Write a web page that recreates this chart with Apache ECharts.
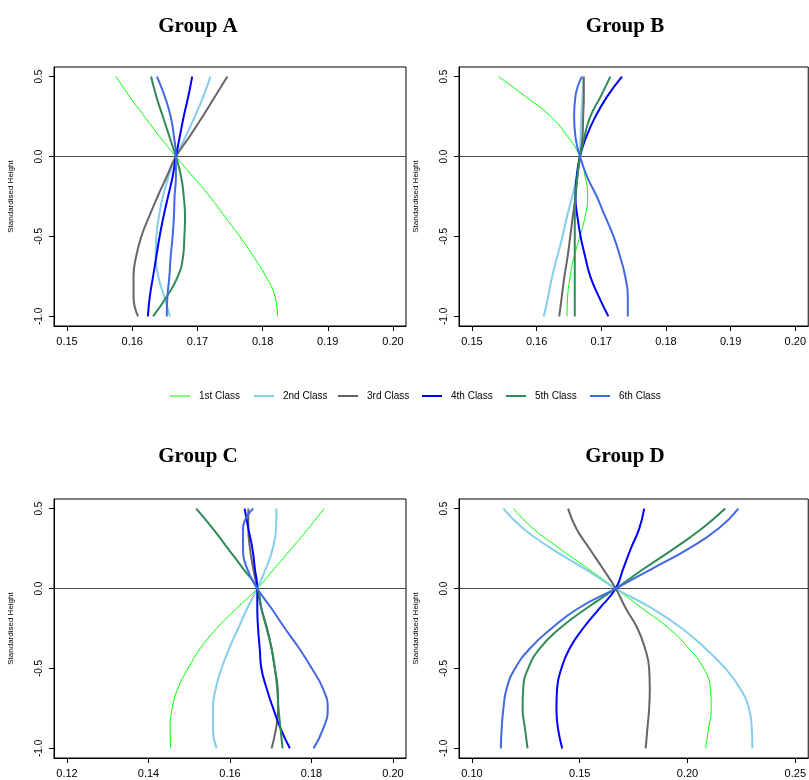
<!DOCTYPE html>
<html>
<head>
<meta charset="utf-8">
<script src="https://cdn.jsdelivr.net/npm/echarts@6/dist/echarts.min.js"></script>
<style>
  html, body { margin: 0; padding: 0; background: #fff; }
  #chart { width: 809px; height: 780px; }
</style>
</head>
<body>
<div id="chart"></div>
<script>
// Standardised height levels at which each profile is sampled
const heights = [0.5, 0.375, 0.25, 0.125, 0, -0.125, -0.25, -0.375, -0.5, -0.625, -0.75, -0.875, -1.0];

const classNames = ['1st Class', '2nd Class', '3rd Class', '4th Class', '5th Class', '6th Class'];
const classColors = ['#00ff00', '#87ceeb', '#666666', '#0000ff', '#2e8b57', '#4169e1'];
const classWidths = [1, 2, 2, 2, 2, 2];

const groupNames = ['Group A', 'Group B', 'Group C', 'Group D'];

// Share of each class at every height level (one row per class)
const groupA = [
  [0.1575, 0.1596, 0.1619, 0.1642, 0.1667, 0.1693, 0.1719, 0.1742, 0.1765, 0.1786, 0.1805, 0.1819, 0.1823],
  [0.1720, 0.1709, 0.1696, 0.1682, 0.1667, 0.1656, 0.1647, 0.1641, 0.1637, 0.1636, 0.1640, 0.1649, 0.1658],
  [0.1746, 0.1727, 0.1708, 0.1688, 0.1667, 0.1653, 0.1639, 0.1626, 0.1614, 0.1606, 0.1602, 0.1602, 0.1609],
  [0.1692, 0.1686, 0.1679, 0.1673, 0.1667, 0.1662, 0.1655, 0.1648, 0.1642, 0.1637, 0.1632, 0.1627, 0.1624],
  [0.1629, 0.1637, 0.1647, 0.1657, 0.1667, 0.1675, 0.1679, 0.1681, 0.1680, 0.1678, 0.1670, 0.1653, 0.1632],
  [0.1638, 0.1650, 0.1659, 0.1664, 0.1667, 0.1667, 0.1665, 0.1664, 0.1662, 0.1659, 0.1657, 0.1654, 0.1653]
];

const groupB = [
  [0.1541, 0.1583, 0.1622, 0.1648, 0.1667, 0.1675, 0.1679, 0.1675, 0.1667, 0.1658, 0.1652, 0.1648, 0.1647],
  [0.1672, 0.1671, 0.1669, 0.1668, 0.1667, 0.1662, 0.1655, 0.1647, 0.1640, 0.1632, 0.1624, 0.1618, 0.1611],
  [0.1673, 0.1673, 0.1672, 0.1671, 0.1667, 0.1663, 0.1660, 0.1656, 0.1652, 0.1648, 0.1643, 0.1639, 0.1635],
  [0.1732, 0.1709, 0.1691, 0.1677, 0.1667, 0.1662, 0.1660, 0.1663, 0.1668, 0.1675, 0.1683, 0.1696, 0.1711],
  [0.1714, 0.1699, 0.1683, 0.1674, 0.1667, 0.1663, 0.1660, 0.1659, 0.1659, 0.1659, 0.1659, 0.1659, 0.1659],
  [0.1670, 0.1660, 0.1658, 0.1660, 0.1667, 0.1678, 0.1693, 0.1706, 0.1719, 0.1729, 0.1737, 0.1741, 0.1741]
];

const groupC = [
  [0.1831, 0.1792, 0.1751, 0.1709, 0.1667, 0.1616, 0.1567, 0.1527, 0.1497, 0.1472, 0.1458, 0.1453, 0.1454],
  [0.1714, 0.1713, 0.1705, 0.1688, 0.1667, 0.1642, 0.1620, 0.1598, 0.1579, 0.1565, 0.1558, 0.1558, 0.1567],
  [0.1645, 0.1645, 0.1649, 0.1657, 0.1667, 0.1677, 0.1691, 0.1702, 0.1710, 0.1717, 0.1718, 0.1713, 0.1702],
  [0.1636, 0.1645, 0.1655, 0.1661, 0.1667, 0.1667, 0.1669, 0.1673, 0.1677, 0.1690, 0.1706, 0.1724, 0.1747],
  [0.1517, 0.1558, 0.1595, 0.1632, 0.1667, 0.1677, 0.1690, 0.1702, 0.1710, 0.1716, 0.1719, 0.1724, 0.1729],
  [0.1657, 0.1632, 0.1632, 0.1642, 0.1667, 0.1702, 0.1735, 0.1770, 0.1801, 0.1828, 0.1840, 0.1829, 0.1805]
];

const groupD = [
  [0.1192, 0.1284, 0.1407, 0.1538, 0.1667, 0.1791, 0.1914, 0.2006, 0.2075, 0.2106, 0.2110, 0.2098, 0.2083],
  [0.1146, 0.1238, 0.1369, 0.1522, 0.1667, 0.1837, 0.1975, 0.2083, 0.2175, 0.2244, 0.2285, 0.2298, 0.2301],
  [0.1446, 0.1484, 0.1545, 0.1607, 0.1667, 0.1714, 0.1768, 0.1803, 0.1822, 0.1825, 0.1822, 0.1814, 0.1806],
  [0.1799, 0.1776, 0.1737, 0.1702, 0.1667, 0.1591, 0.1515, 0.1453, 0.1415, 0.1395, 0.1392, 0.1399, 0.1419],
  [0.2175, 0.2067, 0.1937, 0.1799, 0.1667, 0.1530, 0.1407, 0.1315, 0.1261, 0.1238, 0.1235, 0.1246, 0.1258],
  [0.2236, 0.2144, 0.2006, 0.1837, 0.1667, 0.1492, 0.1369, 0.1269, 0.1200, 0.1161, 0.1146, 0.1138, 0.1134]
];

// Tick positions
const xTicksAB = [0.15, 0.16, 0.17, 0.18, 0.19, 0.20];
const xTicksC = [0.12, 0.14, 0.16, 0.18, 0.20];
const xTicksD = [0.10, 0.15, 0.20, 0.25];
const yTicks = [-1.0, -0.5, 0.0, 0.5];

const allGroups = [groupA, groupB, groupC, groupD];
const xTickSets = [xTicksAB, xTicksAB, xTicksC, xTicksD];

// Each axis range is padded by 4% on both sides of the tick span
function padded(ticks) {
  const lo = ticks[0], hi = ticks[ticks.length - 1];
  const pad = (hi - lo) * 0.04;
  return [lo - pad, hi + pad];
}
const yRange = padded([-1.0, 0.5]);

const panelLeft = [54, 459, 54, 459];
const panelTop = [67, 67, 499, 499];
const panelW = 352, panelH = 259;
const titleX = [193, 620, 193, 620];
const titleY = [22, 22, 452, 452];

const axisFont = 'Liberation Sans, Arial, sans-serif';

const grids = [], xAxes = [], yAxes = [], series = [], titles = [];

for (let g = 0; g < 4; g++) {
  grids.push({
    left: panelLeft[g], top: panelTop[g], width: panelW, height: panelH,
    show: true, borderColor: '#000', borderWidth: 1, backgroundColor: 'transparent'
  });
  const xr = padded(xTickSets[g]);
  xAxes.push({
    type: 'value', gridIndex: g, min: xr[0], max: xr[1],
    splitLine: { show: false },
    axisLine: { show: true, onZero: false, lineStyle: { color: '#000', width: 1 } },
    axisTick: { show: true, length: 5, customValues: xTickSets[g], lineStyle: { color: '#000' } },
    axisLabel: {
      customValues: xTickSets[g], margin: 10, color: '#000', fontSize: 11, fontFamily: axisFont,
      formatter: v => v.toFixed(2)
    }
  });
  yAxes.push({
    type: 'value', gridIndex: g, min: yRange[0], max: yRange[1],
    name: 'Standardised Height', nameLocation: 'middle', nameGap: 39, nameRotate: 90,
    nameTextStyle: { fontSize: 8, color: '#000', fontFamily: axisFont },
    splitLine: { show: false },
    axisLine: { show: true, onZero: false, lineStyle: { color: '#000', width: 1 } },
    axisTick: { show: true, length: 5, customValues: yTicks, lineStyle: { color: '#000' } },
    axisLabel: {
      customValues: yTicks, rotate: 90, margin: 10, color: '#000', fontSize: 10, fontFamily: axisFont,
      formatter: v => v.toFixed(1)
    }
  });
  titles.push({
    text: groupNames[g], left: titleX[g], top: titleY[g], textAlign: 'center', textVerticalAlign: 'middle',
    textStyle: { fontFamily: 'Liberation Serif, Times New Roman, serif', fontWeight: 'bold', fontSize: 21, color: '#000' }
  });
  const rows = allGroups[g];
  for (let c = 0; c < classNames.length; c++) {
    const s = {
      name: classNames[c], type: 'line', xAxisIndex: g, yAxisIndex: g,
      data: rows[c].map((v, i) => [v, heights[i]]),
      smooth: 0.5, symbol: 'none', showSymbol: false, animation: false,
      lineStyle: { color: classColors[c], width: classWidths[c] },
      itemStyle: { color: classColors[c] },
      z: 3 + c
    };
    if (c === 0) {
      // reference line at height zero
      s.markLine = {
        silent: true, symbol: 'none', label: { show: false },
        lineStyle: { color: '#4d4d4d', width: 1, type: 'solid' },
        data: [{ yAxis: 0 }]
      };
    }
    series.push(s);
  }
}

// One legend per class so the entries sit at even spacing; plain line keys
const legendLeft = [170, 254, 338, 422, 506, 590];
const legends = classNames.map((n, i) => ({
  data: [{ name: n, icon: 'rect' }], left: legendLeft[i], top: 391, orient: 'horizontal',
  padding: 0, itemWidth: 20, itemHeight: classWidths[i], selectedMode: false,
  textStyle: { fontSize: 10, color: '#000', fontFamily: axisFont, padding: [0, 0, 0, 4] }
}));

const chart = echarts.init(document.getElementById('chart'), null, { renderer: 'canvas' });
chart.setOption({
  animation: false,
  backgroundColor: '#fff',
  title: titles,
  legend: legends,
  grid: grids,
  xAxis: xAxes,
  yAxis: yAxes,
  series: series
});
</script>
</body>
</html>
